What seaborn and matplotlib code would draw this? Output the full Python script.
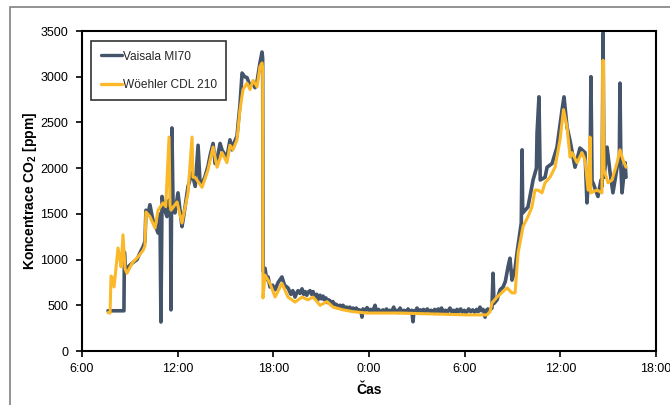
import matplotlib
matplotlib.use('Agg')
import matplotlib.pyplot as plt
import pandas as pd
import seaborn as sns
from matplotlib.patches import Rectangle

# (hour, ppm); hours run from midnight of day 1 (24 = 0:00 next day)
vaisala_points = [
    (7.63, 440), (8.63, 440), (8.66, 1080), (8.72, 880), (8.89, 920), (9.14, 960),
    (9.45, 1000), (9.60, 1060), (9.83, 1140), (9.95, 1200), (10.01, 1540), (10.15, 1500),
    (10.26, 1600), (10.45, 1430), (10.58, 1380), (10.77, 1290), (10.89, 1500), (10.95, 317),
    (11.02, 1690), (11.15, 1560), (11.33, 1470), (11.46, 1650), (11.55, 1600), (11.58, 450),
    (11.64, 2440), (11.71, 1600), (11.83, 1510), (12.02, 1730), (12.27, 1360), (12.40, 1500),
    (12.65, 1800), (12.90, 1950), (13.10, 1800), (13.28, 2250), (13.40, 1850), (13.53, 1830),
    (13.70, 1900), (13.90, 2020), (14.05, 2150), (14.22, 2270), (14.35, 2050), (14.47, 2100),
    (14.66, 2270), (14.78, 2200), (14.95, 2150), (15.09, 2120), (15.28, 2310), (15.40, 2200),
    (15.47, 2250), (15.72, 2350), (15.91, 2700), (16.04, 3040), (16.20, 3000), (16.35, 2990),
    (16.54, 2900), (16.73, 2930), (16.85, 2880), (16.98, 2950), (17.16, 3150), (17.29, 3270),
    (17.33, 3200), (17.36, 870), (17.48, 905), (17.58, 780), (17.67, 810), (17.79, 700),
    (17.95, 720), (18.11, 670), (18.30, 750), (18.54, 810), (18.70, 720), (18.92, 690),
    (19.10, 620), (19.22, 660), (19.36, 590), (19.48, 640), (19.55, 660), (19.67, 630),
    (19.80, 680), (19.90, 620), (20.00, 650), (20.10, 610), (20.17, 640), (20.30, 660),
    (20.40, 620), (20.49, 650), (20.58, 600), (20.65, 590), (20.72, 620), (20.80, 560),
    (20.88, 600), (20.93, 610), (21.02, 570), (21.12, 600), (21.20, 560), (21.30, 580),
    (21.37, 530), (21.46, 560), (21.55, 550), (21.65, 520), (21.74, 540), (21.85, 505),
    (21.95, 510), (22.05, 490), (22.18, 500), (22.28, 470), (22.37, 500), (22.50, 470),
    (22.62, 480), (22.72, 455), (22.80, 480), (22.92, 445), (23.00, 470), (23.10, 445),
    (23.20, 470), (23.30, 440), (23.40, 450), (23.50, 430), (23.56, 370), (23.62, 460),
    (23.75, 440), (23.88, 475), (24.00, 440), (24.10, 455), (24.22, 430), (24.38, 500),
    (24.45, 440), (24.60, 455), (24.72, 425), (24.88, 450), (25.00, 430), (25.10, 460),
    (25.20, 425), (25.30, 445), (25.42, 430), (25.55, 480), (25.62, 430), (25.75, 445),
    (25.85, 420), (25.95, 470), (26.05, 430), (26.20, 445), (26.32, 420), (26.45, 460),
    (26.55, 430), (26.68, 445), (26.76, 320), (26.82, 440), (26.92, 430), (27.01, 470),
    (27.12, 425), (27.22, 450), (27.30, 430), (27.42, 455), (27.55, 425), (27.65, 460),
    (27.80, 430), (27.90, 445), (28.01, 425), (28.12, 455), (28.22, 430), (28.35, 460),
    (28.45, 425), (28.55, 470), (28.65, 430), (28.80, 445), (28.90, 420), (29.08, 470),
    (29.18, 430), (29.30, 445), (29.40, 420), (29.52, 455), (29.62, 430), (29.75, 460),
    (29.85, 425), (29.98, 445), (30.08, 420), (30.15, 430), (30.25, 460), (30.38, 430),
    (30.50, 450), (30.62, 425), (30.75, 455), (30.85, 430), (30.96, 480), (31.05, 440),
    (31.15, 455), (31.22, 430), (31.28, 370), (31.34, 440), (31.45, 460), (31.52, 430),
    (31.59, 450), (31.71, 470), (31.78, 850), (31.84, 520), (32.03, 560), (32.22, 670),
    (32.41, 700), (32.55, 760), (32.72, 920), (32.84, 1015), (32.97, 775), (33.03, 810),
    (33.16, 900), (33.28, 1070), (33.55, 1400), (33.60, 2200), (33.64, 1510), (33.97, 1575),
    (34.29, 1870), (34.50, 2000), (34.54, 2385), (34.66, 2780), (34.74, 1870), (35.04, 1900),
    (35.17, 2010), (35.48, 2050), (35.79, 2230), (36.11, 2640), (36.23, 2780), (36.42, 2450),
    (36.61, 2300), (36.92, 2010), (37.23, 2220), (37.55, 2170), (37.67, 1620), (37.74, 1800),
    (37.86, 1850), (37.92, 3000), (37.99, 1850), (38.05, 1840), (38.36, 1690), (38.55, 1870),
    (38.62, 1800), (38.68, 3480), (38.74, 1900), (38.93, 2230), (39.12, 1950), (39.30, 1730),
    (39.56, 2010), (39.70, 2100), (39.74, 2930), (39.80, 2000), (39.87, 1730), (40.06, 2060),
    (40.12, 1900),
]

woehler_points = [
    (7.63, 420), (7.76, 415), (7.82, 820), (7.88, 810), (8.01, 700), (8.26, 1127),
    (8.38, 1000), (8.45, 920), (8.57, 1270), (8.70, 900), (8.82, 850), (9.14, 960),
    (9.51, 1030), (9.83, 1100), (9.95, 1150), (10.01, 1520), (10.26, 1470), (10.58, 1345),
    (10.77, 1540), (11.08, 1620), (11.25, 1580), (11.46, 2340), (11.52, 1600), (11.58, 1540),
    (11.96, 1630), (12.27, 1400), (12.65, 1730), (12.90, 2340), (12.96, 1900), (13.09, 1900),
    (13.53, 1790), (13.90, 1980), (14.22, 2230), (14.47, 2010), (14.78, 2170), (15.09, 2060),
    (15.28, 2250), (15.47, 2200), (15.72, 2310), (15.91, 2640), (16.10, 2860), (16.35, 2930),
    (16.54, 2860), (16.73, 2960), (16.98, 2890), (17.16, 3110), (17.29, 3150), (17.33, 3100),
    (17.35, 580), (17.48, 830), (17.79, 740), (18.11, 590), (18.54, 740), (18.92, 590),
    (19.36, 535), (19.80, 590), (20.17, 560), (20.49, 590), (20.93, 500), (21.37, 540),
    (21.74, 480), (22.37, 450), (23.00, 430), (23.88, 415), (25.95, 415), (28.01, 405),
    (30.15, 395), (31.40, 395), (31.59, 430), (31.71, 525), (32.03, 590), (32.66, 690),
    (32.97, 635), (33.16, 635), (33.35, 1070), (33.66, 1360), (33.97, 1470), (34.22, 1575),
    (34.41, 1760), (34.60, 1760), (34.85, 1730), (35.04, 1840), (35.35, 1900), (35.67, 2010),
    (35.98, 2310), (36.20, 2640), (36.42, 2450), (36.61, 2120), (36.73, 2170), (37.05, 2060),
    (37.36, 2170), (37.55, 2090), (37.74, 1760), (37.80, 1760), (37.86, 2340), (37.92, 1730),
    (38.30, 1760), (38.61, 1730), (38.68, 3180), (38.74, 1980), (38.99, 1840), (39.24, 1870),
    (39.56, 2060), (39.74, 2200), (39.93, 2090), (40.12, 2010),
]

tick_hours = [6, 12, 18, 24, 30, 36, 42]
tick_labels = ['6:00', '12:00', '18:00', '0:00', '6:00', '12:00', '18:00']
y_ticks = [0, 500, 1000, 1500, 2000, 2500, 3000, 3500]

navy = '#44546A'
gold = '#FBB829'

sns.set_theme(style='white')
plt.rcParams['font.family'] = ['Liberation Sans', 'DejaVu Sans']
plt.rcParams['mathtext.fontset'] = 'custom'
plt.rcParams['mathtext.rm'] = 'Liberation Sans'
plt.rcParams['mathtext.bf'] = 'Liberation Sans:bold'

df_v = pd.DataFrame(vaisala_points, columns=['hour', 'ppm'])
df_w = pd.DataFrame(woehler_points, columns=['hour', 'ppm'])

fig = plt.figure(figsize=(6.7, 4.05), dpi=100)
ax = fig.add_axes([82 / 670, 1 - 351 / 405, 574 / 670, 320 / 405])

sns.lineplot(data=df_v, x='hour', y='ppm', ax=ax, color=navy, lw=2.6,
             estimator=None, sort=False, label='Vaisala MI70')
sns.lineplot(data=df_w, x='hour', y='ppm', ax=ax, color=gold, lw=2.2,
             estimator=None, sort=False, label='Wöehler CDL 210')

ax.set_xlim(6, 42)
ax.set_ylim(0, 3500)
ax.set_xticks(tick_hours)
ax.set_xticklabels(tick_labels)
ax.set_yticks(y_ticks)
ax.tick_params(axis='both', direction='out', length=4, width=1.2,
               color='black', labelsize=9, labelcolor='black')
ax.tick_params(axis='y', pad=6)
ax.tick_params(axis='x', pad=5)
ax.tick_params(bottom=True, left=True)

for side in ['top', 'right', 'bottom', 'left']:
    ax.spines[side].set_color('black')
    ax.spines[side].set_linewidth(1.5)

ax.set_xlabel('Čas', fontsize=10, fontweight='bold', color='black')
ax.set_ylabel(r'Koncentrace CO$_\mathbf{2}$ [ppm]', fontsize=10,
              fontweight='bold', color='black')
ax.yaxis.set_label_coords(-0.075, 0.5)
ax.xaxis.set_label_coords(0.5, -0.1)

leg = ax.legend(loc='upper left', bbox_to_anchor=(9 / 574, 1 - 10 / 320),
                borderaxespad=0, fancybox=False, frameon=True, fontsize=8.6,
                handlelength=1.8, handletextpad=0.05, labelspacing=1.35,
                borderpad=0.8)
leg.get_frame().set_edgecolor('black')
leg.get_frame().set_linewidth(1.2)
for line in leg.get_lines():
    line.set_linewidth(2.4)

fig.patches.append(Rectangle((10 / 670, -0.02), 1.0, 1 - 7 / 405 + 0.02,
                             transform=fig.transFigure, fill=False,
                             edgecolor='#808080', lw=1.2))

fig.savefig('out.png', dpi=100)
